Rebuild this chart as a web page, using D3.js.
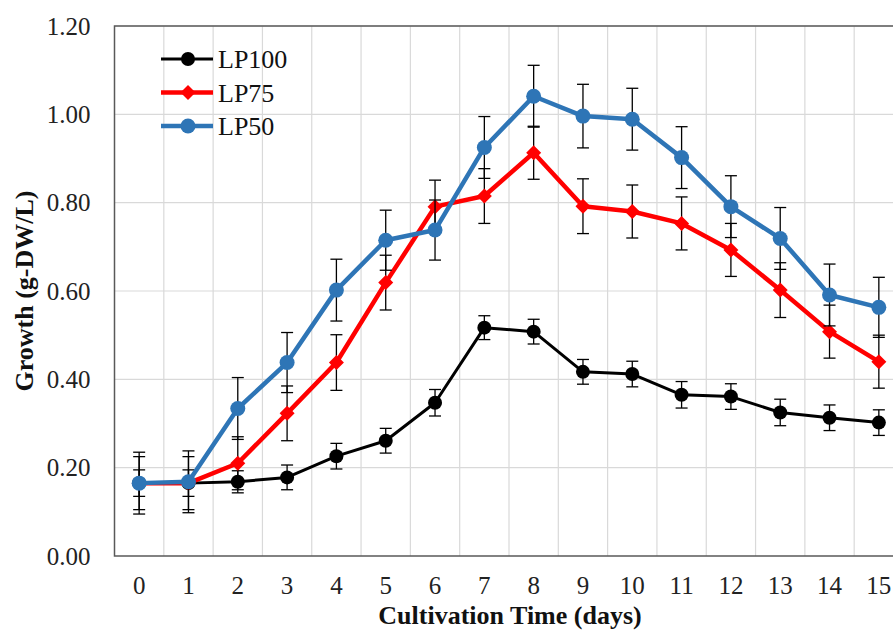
<!DOCTYPE html>
<html>
<head>
<meta charset="utf-8">
<script src="https://cdn.jsdelivr.net/npm/d3@7/dist/d3.min.js"></script>
<style>
  html, body { margin: 0; padding: 0; background: #fff; }
  svg { display: block; }
  svg text { font-family: "Liberation Serif", "Times New Roman", serif !important; }
</style>
</head>
<body>
<svg id="chart" width="893" height="639"></svg>
<script>
// ---- data ----
const days = [0, 1, 2, 3, 4, 5, 6, 7, 8, 9, 10, 11, 12, 13, 14, 15];
const lp100 = [0.165, 0.165, 0.168, 0.178, 0.226, 0.261, 0.347, 0.517, 0.508, 0.417, 0.412, 0.365, 0.361, 0.325, 0.313, 0.302];
const lp100Err = [0.03, 0.03, 0.025, 0.028, 0.029, 0.028, 0.03, 0.027, 0.028, 0.028, 0.029, 0.03, 0.029, 0.03, 0.029, 0.029];
const lp75 = [0.165, 0.165, 0.21, 0.323, 0.438, 0.619, 0.791, 0.815, 0.913, 0.792, 0.78, 0.753, 0.693, 0.602, 0.508, 0.44];
const lp75Err = [0.06, 0.06, 0.06, 0.062, 0.063, 0.062, 0.06, 0.062, 0.06, 0.062, 0.06, 0.06, 0.06, 0.062, 0.06, 0.06];
const lp50 = [0.165, 0.168, 0.334, 0.438, 0.602, 0.715, 0.738, 0.925, 1.041, 0.996, 0.989, 0.902, 0.791, 0.719, 0.591, 0.563];
const lp50Err = [0.07, 0.07, 0.07, 0.068, 0.07, 0.068, 0.068, 0.07, 0.07, 0.072, 0.07, 0.07, 0.07, 0.07, 0.07, 0.068];
const seriesNames = ["LP100", "LP75", "LP50"];
const yTicks = [0, 0.2, 0.4, 0.6, 0.8, 1.0, 1.2];
const xTitle = "Cultivation Time (days)";
const yTitle = "Growth (g-DW/L)";

// ---- layout ----
const svg = d3.select("#chart");
const plot = { left: 114.5, right: 903.5, top: 26, bottom: 556 };
const serif = "Liberation Serif";

const x = d3.scaleBand().domain(days).range([plot.left, plot.right]).padding(0);
const xc = d => x(d) + x.bandwidth() / 2;
const y = d3.scaleLinear().domain([0, 1.2]).range([plot.bottom, plot.top]);

// gridlines
const grid = svg.append("g");
grid.selectAll("line.h").data(yTicks.slice(1)).join("line")
  .attr("x1", plot.left).attr("x2", plot.right)
  .attr("y1", d => y(d)).attr("y2", d => y(d))
  .attr("stroke", "#d9d9d9").attr("stroke-width", 1.2);
grid.selectAll("line.v").data(days.slice(1)).join("line")
  .attr("x1", d => x(d)).attr("x2", d => x(d))
  .attr("y1", plot.top).attr("y2", plot.bottom)
  .attr("stroke", "#d9d9d9").attr("stroke-width", 1.2);

// plot border
svg.append("rect")
  .attr("x", plot.left).attr("y", plot.top)
  .attr("width", plot.right - plot.left).attr("height", plot.bottom - plot.top)
  .attr("fill", "none").attr("stroke", "#595959").attr("stroke-width", 1.5);

// axes (labels only, via d3 axes)
const yAxis = svg.append("g").attr("transform", `translate(${plot.left},0)`)
  .call(d3.axisLeft(y).tickValues(yTicks).tickFormat(d3.format(".2f")).tickSize(0).tickPadding(24));
yAxis.attr("font-family", null).attr("font-size", null);
yAxis.select(".domain").remove();
yAxis.selectAll("text").style("font-family", serif).style("font-size", "25px").attr("fill", "#222");

const xAxis = svg.append("g").attr("transform", `translate(0,${plot.bottom})`)
  .call(d3.axisBottom(x).tickSize(0).tickPadding(20));
xAxis.attr("font-family", null).attr("font-size", null);
xAxis.select(".domain").remove();
xAxis.selectAll("text").style("font-family", serif).style("font-size", "25px").attr("fill", "#222");

// axis titles
svg.append("text").attr("x", 510).attr("y", 624)
  .attr("text-anchor", "middle")
  .style("font-family", serif).style("font-weight", "bold").style("font-size", "26px").attr("fill", "#111")
  .text(xTitle);
svg.append("text")
  .attr("transform", `translate(33,${(plot.top + plot.bottom) / 2}) rotate(-90)`)
  .attr("text-anchor", "middle")
  .style("font-family", serif).style("font-weight", "bold").style("font-size", "26px").attr("fill", "#111")
  .text(yTitle);

// series
const series = [
  { name: seriesNames[0], vals: lp100, err: lp100Err, color: "#000000", width: 3, marker: "circle", size: 7 },
  { name: seriesNames[1], vals: lp75, err: lp75Err, color: "#ff0000", width: 4.5, marker: "diamond", size: 7.5 },
  { name: seriesNames[2], vals: lp50, err: lp50Err, color: "#2e75b6", width: 4.5, marker: "circle", size: 7.5 }
];

const line = d3.line().x(d => xc(d.day)).y(d => y(d.v));
const capW = 6;

function drawMarker(g, s, cx, cy) {
  if (s.marker === "circle") {
    g.append("circle").attr("cx", cx).attr("cy", cy).attr("r", s.size).attr("fill", s.color);
  } else {
    const r = s.size;
    g.append("path")
      .attr("d", `M${cx},${cy - r}L${cx + r},${cy}L${cx},${cy + r}L${cx - r},${cy}Z`)
      .attr("fill", s.color);
  }
}

series.forEach(s => {
  const pts = days.map((d, i) => ({ day: d, v: s.vals[i], e: s.err[i] }));
  const g = svg.append("g");
  const eb = g.append("g").attr("stroke", "#000").attr("stroke-width", 1.3);
  pts.forEach(p => {
    const cx = xc(p.day), y1 = y(p.v + p.e), y2 = y(p.v - p.e);
    eb.append("line").attr("x1", cx).attr("x2", cx).attr("y1", y1).attr("y2", y2);
    eb.append("line").attr("x1", cx - capW).attr("x2", cx + capW).attr("y1", y1).attr("y2", y1);
    eb.append("line").attr("x1", cx - capW).attr("x2", cx + capW).attr("y1", y2).attr("y2", y2);
  });
  g.append("path").datum(pts).attr("d", line)
    .attr("fill", "none").attr("stroke", s.color).attr("stroke-width", s.width)
    .attr("stroke-linejoin", "round");
  pts.forEach(p => drawMarker(g, s, xc(p.day), y(p.v)));
});

// legend
const legend = svg.append("g");
const legRows = [59, 92.5, 126];
series.forEach((s, i) => {
  const ly = legRows[i];
  legend.append("line").attr("x1", 161).attr("x2", 213).attr("y1", ly).attr("y2", ly)
    .attr("stroke", s.color).attr("stroke-width", s.width);
  drawMarker(legend, s, 188, ly);
  legend.append("text").attr("x", 218).attr("y", ly + 9)
    .style("font-family", serif).style("font-size", "26px").attr("fill", "#111")
    .text(s.name);
});
</script>
</body>
</html>
